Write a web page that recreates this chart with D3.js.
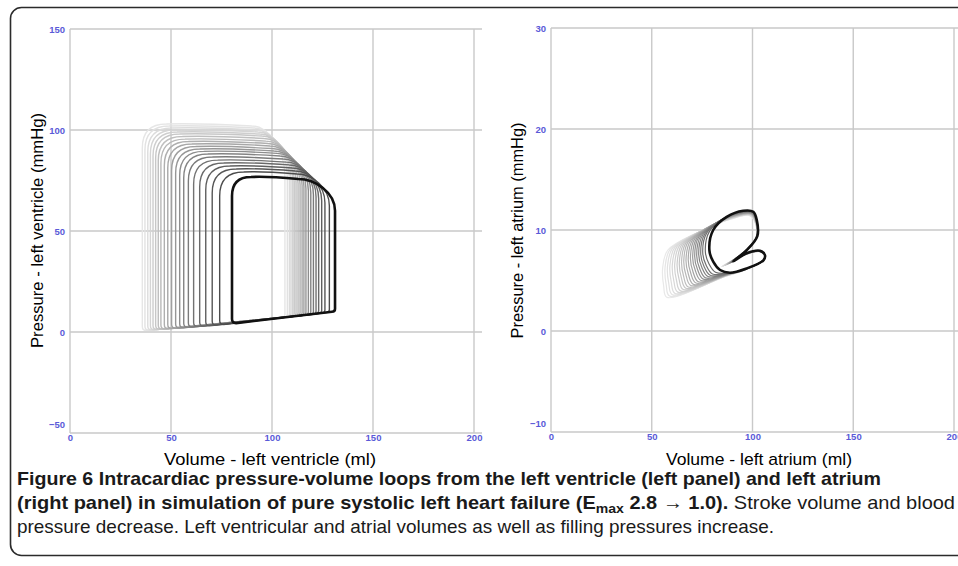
<!DOCTYPE html>
<html>
<head>
<meta charset="utf-8">
<script src="https://cdn.jsdelivr.net/npm/d3@7"></script>
<style>
  body { margin: 0; background: #fff; }
  svg { display: block; }
</style>
</head>
<body>
<svg id="chart" width="958" height="566"></svg>
<script>
// Axis ticks
const volumeTicks = [0, 50, 100, 150, 200];
const lvPressureTicks = [-50, 0, 50, 100, 150];
const laPressureTicks = [-10, 0, 10, 20, 30];

// Left ventricle loops, first beat (light) to last beat (dark)
const lvEsv = [35.8, 37.1, 38.5, 39.8, 41.1, 42.4, 43.7, 45.0, 46.7, 48.4, 50.3, 52.3, 54.3, 56.3, 58.6, 61.2, 64.2, 67.2, 70.4, 74.1, 80.2];
const lvEdv = [106.4, 107.6, 108.6, 109.4, 110.3, 111.0, 111.9, 112.9, 113.9, 114.9, 115.8, 116.8, 118.0, 119.2, 120.5, 121.8, 123.1, 124.6, 126.2, 128.4, 131.2];
const lvEsp = [0.8, 0.9, 1.0, 1.1, 1.2, 1.3, 1.4, 1.5, 1.6, 1.7, 1.8, 2.0, 2.1, 2.3, 2.5, 2.7, 2.9, 3.1, 3.4, 3.7, 4.4];
const lvEdp = [7.2, 7.3, 7.4, 7.5, 7.6, 7.7, 7.8, 7.9, 8.0, 8.1, 8.2, 8.3, 8.4, 8.5, 8.6, 8.8, 9.0, 9.2, 9.4, 9.6, 10];
const lvPeak = [103, 102, 101, 100, 99, 98, 96.8, 95.5, 94.3, 93.1, 91.8, 90.6, 89.4, 88.1, 86.6, 85.1, 83.7, 82.2, 80.7, 79.2, 76.7];
const lvTopEnd = [90, 91, 92, 93, 94, 95, 96, 97, 98, 99, 100, 101, 102.5, 104, 105.5, 107, 108.5, 110, 111.5, 112.5, 113];
const lvOpen = [77, 76.5, 76, 75.5, 75, 74.5, 74, 73.5, 73, 72.5, 72, 71, 70, 69, 68, 67, 66, 65, 64, 62.5, 60];

// Left atrium: outline of the last loop [volume, pressure, weightV, weightP]
const laShape = [
  [78.6, 8.0, 1, 1],
  [80.5, 10.0, 0.97, 1.1],
  [87.2, 11.3, 0.65, 0.9],
  [95.4, 11.9, 0.26, 0.45],
  [100.4, 11.8, 0.09, 0.2],
  [102.1, 11.0, 0.04, 0.1],
  [102.4, 9.4, 0.03, 0.1],
  [97.1, 8.0, 0.1, 0.2],
  [90.5, 6.9, 0.25, 0.3],
  [97.1, 7.7, 0.1, 0.15],
  [103.7, 7.95, 0.02, 0.05],
  [106.2, 7.5, 0, 0],
  [105.4, 7.0, 0, 0],
  [97.1, 6.2, 0.05, 0.1],
  [88.8, 5.77, 0.1, 0.2],
  [83.9, 6.04, 1.14, 1.5],
  [80.5, 6.86, 1.06, 1.33]
];
// Left atrium loops: shift of the loop tail, first beat to last beat
const laShiftV = [-23.2, -22.0, -20.8, -19.6, -18.4, -17.2, -16.0, -14.9, -13.8, -12.7, -11.6, -10.5, -9.4, -8.3, -7.3, -6.3, -5.3, -4.3, -3.3, -2.0, 0];
const laShiftP = [-1.8, -1.72, -1.63, -1.55, -1.46, -1.38, -1.29, -1.2, -1.12, -1.03, -0.95, -0.86, -0.78, -0.69, -0.6, -0.52, -0.43, -0.35, -0.26, -0.15, 0];

const svg = d3.select("#chart");
const tickColor = "#5a5ad8";
const gridColor = "#c9c9c9";
const sans = "'Liberation Sans', Arial, sans-serif";

// Outer frame
svg.append("rect")
  .attr("x", 10.5).attr("y", 7.5)
  .attr("width", 990).attr("height", 548)
  .attr("rx", 11)
  .attr("fill", "none")
  .attr("stroke", "#2b2b2b")
  .attr("stroke-width", 1.6);

// Panel scales
const lvX = d3.scaleLinear().domain([0, 200]).range([70, 474]);
const lvY = d3.scaleLinear().domain([-50, 150]).range([433, 29]);
const laX = d3.scaleLinear().domain([0, 200]).range([551, 954]);
const laY = d3.scaleLinear().domain([-10, 30]).range([432, 28]);

function drawPanel(x, y, yTicks, gridRight, yTitle, yTitleLen, yTitleX, xTitle, xTitleLen, xTitleMid) {
  const g = svg.append("g");

  // grid
  g.selectAll(".vgrid")
    .data(volumeTicks)
    .join("line")
    .attr("x1", (d) => x(d)).attr("x2", (d) => x(d))
    .attr("y1", y.range()[1]).attr("y2", y.range()[0])
    .attr("stroke", gridColor).attr("stroke-width", 1.4);

  g.selectAll(".hgrid")
    .data(yTicks)
    .join("line")
    .attr("x1", x.range()[0]).attr("x2", gridRight)
    .attr("y1", (d) => y(d)).attr("y2", (d) => y(d))
    .attr("stroke", gridColor).attr("stroke-width", 1.4);

  // tick labels
  const yAxis = g.append("g")
    .attr("transform", `translate(${x.range()[0]},0)`)
    .call(d3.axisLeft(y).tickValues(yTicks).tickSize(0).tickPadding(5));
  const xAxis = g.append("g")
    .attr("transform", `translate(0,${y.range()[0]})`)
    .call(d3.axisBottom(x).tickValues(volumeTicks).tickSize(0).tickPadding(1));

  for (const ax of [yAxis, xAxis]) {
    ax.select(".domain").remove();
    ax.selectAll("text")
      .attr("fill", tickColor)
      .attr("font-family", sans)
      .attr("font-weight", "bold")
      .attr("font-size", 9.5);
  }
  // lowest y label sits above the corner
  yAxis.selectAll("text").filter((d) => d === yTicks[0]).attr("y", -9);

  // axis titles
  g.append("text")
    .attr("transform", `translate(${yTitleX},230.5) rotate(-90)`)
    .attr("text-anchor", "middle")
    .attr("font-family", sans)
    .attr("font-size", 17)
    .attr("textLength", yTitleLen)
    .attr("lengthAdjust", "spacingAndGlyphs")
    .text(yTitle);

  g.append("text")
    .attr("x", xTitleMid)
    .attr("y", 465)
    .attr("text-anchor", "middle")
    .attr("font-family", sans)
    .attr("font-size", 17)
    .attr("textLength", xTitleLen)
    .attr("lengthAdjust", "spacingAndGlyphs")
    .text(xTitle);

  return g;
}

const left = drawPanel(lvX, lvY, lvPressureTicks, 482, "Pressure - left ventricle (mmHg)", 235, 43, "Volume - left ventricle (ml)", 212, 270);
const right = drawPanel(laX, laY, laPressureTicks, 958, "Pressure - left atrium (mmHg)", 216, 523, "Volume - left atrium (ml)", 186, 759);

// colour per beat
const n = lvEsv.length;
const beatColor = (i) => i === n - 1 ? "#111" : d3.interpolateRgb("#e6e6e6", "#4c4c4c")(Math.pow(i / (n - 2), 1.2));
const laColor = (i) => i === n - 1 ? "#111" : d3.interpolateRgb("#e8e8e8", "#6a6a6a")(Math.pow(i / (n - 2), 1.3));

// Left ventricle loops
function lvPath(i) {
  const p = d3.path();
  const x0 = lvX(lvEsv[i]), x1 = lvX(lvEdv[i]);
  const yb0 = lvY(lvEsp[i]), yb1 = lvY(lvEdp[i]);
  const yo = lvY(lvOpen[i]), yt = lvY(lvPeak[i]);
  const xt = lvX(lvTopEnd[i]);
  const r = i === n - 1 ? 19 : 24;
  p.moveTo(x0 + 4, yb0);
  p.lineTo(x1 - 3, yb1);
  p.quadraticCurveTo(x1, yb1, x1, yb1 - 3);
  p.lineTo(x1, yo);
  p.bezierCurveTo(x1, yo - (yo - yt) * 0.55, xt + (x1 - xt) * 0.45, yt + 2, xt, yt + 2);
  p.quadraticCurveTo((xt + x0) / 2, yt - 1, x0 + r, yt);
  p.quadraticCurveTo(x0, yt, x0, yt + r);
  p.lineTo(x0, yb0 - 4);
  p.quadraticCurveTo(x0, yb0, x0 + 4, yb0);
  p.closePath();
  return p.toString();
}

left.append("g")
  .selectAll("path")
  .data(d3.range(n))
  .join("path")
  .attr("d", lvPath)
  .attr("fill", "none")
  .attr("stroke", beatColor)
  .attr("stroke-width", (i) => i === n - 1 ? 2.6 : 1.4)
  .attr("stroke-linejoin", "round");

// Left atrium loops
const laLine = (i) => d3.line()
  .x((d) => laX(d[0] + d[2] * laShiftV[i]))
  .y((d) => laY(d[1] + d[3] * laShiftP[i]))
  .curve(d3.curveCatmullRomClosed.alpha(0.5))(laShape);

right.append("g")
  .selectAll("path")
  .data(d3.range(laShiftV.length))
  .join("path")
  .attr("d", laLine)
  .attr("fill", "none")
  .attr("stroke", laColor)
  .attr("stroke-width", (i) => i === n - 1 ? 2.6 : 1.2);

// Caption
const cap = svg.append("g")
  .attr("font-family", sans)
  .attr("font-size", 18.5)
  .attr("fill", "#1a1a1a");

cap.append("text")
  .attr("x", 17).attr("y", 485)
  .attr("font-weight", "bold")
  .attr("textLength", 864)
  .attr("lengthAdjust", "spacingAndGlyphs")
  .text("Figure 6 Intracardiac pressure-volume loops from the left ventricle (left panel) and left atrium");

const line2 = cap.append("text").attr("x", 17).attr("y", 509)
  .attr("textLength", 938)
  .attr("lengthAdjust", "spacingAndGlyphs");
line2.append("tspan").attr("font-weight", "bold").text("(right panel) in simulation of pure systolic left heart failure (E");
line2.append("tspan").attr("font-weight", "bold").attr("font-size", 13).attr("dy", 4).text("max");
line2.append("tspan").attr("font-weight", "bold").attr("dy", -4).text(" 2.8 \u2192 1.0).");
line2.append("tspan").text(" Stroke volume and blood");

cap.append("text")
  .attr("x", 17).attr("y", 533)
  .attr("textLength", 757)
  .attr("lengthAdjust", "spacingAndGlyphs")
  .text("pressure decrease. Left ventricular and atrial volumes as well as filling pressures increase.");
</script>
</body>
</html>
